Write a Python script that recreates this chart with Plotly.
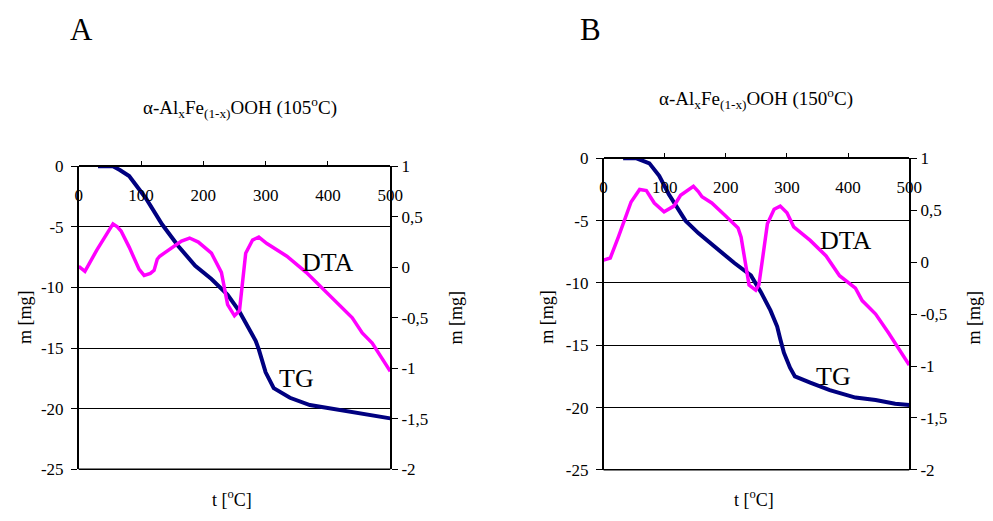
import plotly.graph_objects as go

# ---- data: alpha-AlxFe(1-x)OOH thermal analysis ----
# Sample dried at 105 C
tg_a_t = [31, 55, 66, 81, 108, 134, 160, 187, 213, 239, 257, 273, 284, 289, 295, 300, 313, 339, 371, 407, 439, 470, 500]
tg_a_m = [0, 0, -0.3, -0.8, -2.65, -4.8, -6.6, -8.2, -9.3, -10.6, -11.9, -13.3, -14.4, -15.1, -16.0, -17.0, -18.3, -19.1, -19.7, -20.0, -20.3, -20.5, -20.8]
dta_a_t = [0, 10, 29, 45, 55, 62, 68, 81, 97, 105, 115, 121, 126, 130, 150, 165, 178, 192, 213, 229, 239, 250, 258, 263, 268, 279, 289, 302, 334, 365, 392, 423, 439, 455, 471, 500]
dta_a_v = [0.01, -0.04, 0.17, 0.33, 0.43, 0.40, 0.36, 0.20, -0.02, -0.08, -0.06, -0.03, 0.08, 0.11, 0.20, 0.26, 0.29, 0.25, 0.14, -0.05, -0.37, -0.48, -0.43, -0.11, 0.14, 0.27, 0.30, 0.235, 0.11, -0.05, -0.21, -0.40, -0.50, -0.65, -0.75, -1.03]

# Sample dried at 150 C
tg_b_t = [32, 54, 75, 91, 107, 123, 134, 155, 188, 214, 241, 257, 273, 284, 289, 295, 305, 313, 338, 370, 412, 445, 477, 500]
tg_b_m = [0, 0, -0.4, -1.4, -2.9, -4.2, -5.0, -6.0, -7.35, -8.4, -9.4, -10.7, -12.2, -13.5, -14.5, -15.6, -16.8, -17.5, -18.0, -18.6, -19.2, -19.4, -19.7, -19.8]
dta_b_t = [0, 11, 24, 35, 45, 59, 70, 83, 99, 115, 126, 147, 155, 161, 177, 198, 220, 225, 230, 238, 249, 254, 260, 268, 279, 289, 300, 311, 338, 364, 386, 412, 423, 445, 466, 500]
dta_b_v = [0.02, 0.04, 0.24, 0.43, 0.58, 0.70, 0.69, 0.57, 0.485, 0.54, 0.645, 0.73, 0.68, 0.63, 0.57, 0.455, 0.33, 0.24, 0.06, -0.22, -0.27, -0.22, 0.03, 0.37, 0.51, 0.54, 0.475, 0.34, 0.21, 0.06, -0.13, -0.25, -0.37, -0.50, -0.68, -0.99]

# ---- axis ticks ----
t_ticks = [0, 100, 200, 300, 400, 500]
t_labels = ["0", "100", "200", "300", "400", "500"]
m_ticks = [0, -5, -10, -15, -20, -25]
m_labels = ["0", "-5", "-10", "-15", "-20", "-25"]
d_ticks = [1, 0.5, 0, -0.5, -1, -1.5, -2]
d_labels = ["1", "0,5", "0", "-0,5", "-1", "-1,5", "-2"]

titles = ["α-Al<sub>x</sub>Fe<sub>(1-x)</sub>OOH (105<sup>o</sup>C)",
          "α-Al<sub>x</sub>Fe<sub>(1-x)</sub>OOH (150<sup>o</sup>C)"]
letters = ["A", "B"]

W, H = 993, 521
FAMILY = "Liberation Serif"
NAVY = "#000080"
MAGENTA = "#FF00FF"


def fnt(size):
    return dict(family=FAMILY, size=size, color="black")


def px(x):
    return x / W


def py(y):
    return 1 - y / H


# plot boxes (left, right, top, bottom) in pixels
boxes = [(76, 393, 163.3, 477.7), (610, 921, 155, 478.3)]

fig = go.Figure()

series = [(tg_a_t, tg_a_m, dta_a_t, dta_a_v), (tg_b_t, tg_b_m, dta_b_t, dta_b_v)]
for i, (tt, tm, dt, dv) in enumerate(series):
    xa = "x" if i == 0 else "x2"
    ya = "y" if i == 0 else "y3"
    ya2 = "y2" if i == 0 else "y4"
    fig.add_trace(go.Scatter(x=dt, y=dv, xaxis=xa, yaxis=ya2, mode="lines",
                             line=dict(color=MAGENTA, width=3.5), showlegend=False))
    fig.add_trace(go.Scatter(x=tt, y=tm, xaxis=xa, yaxis=ya, mode="lines",
                             line=dict(color=NAVY, width=4), showlegend=False))

layout = dict(
    width=W, height=H, margin=dict(l=0, r=0, t=0, b=0),
    paper_bgcolor="white", plot_bgcolor="white",
    font=fnt(16),
    showlegend=False,
)

annotations = []
shapes = []
for i, (l, r, t, b) in enumerate(boxes):
    xname = "xaxis" if i == 0 else "xaxis2"
    yname = "yaxis" if i == 0 else "yaxis3"
    y2name = "yaxis2" if i == 0 else "yaxis4"
    xref = "x" if i == 0 else "x2"
    yref = "y" if i == 0 else "y3"
    layout[xname] = dict(
        domain=[px(l), px(r)], range=[0, 500], anchor="free", position=py(t),
        side="bottom", tickvals=t_ticks, ticktext=t_labels, ticks="inside",
        ticklen=5, tickwidth=1.3, tickcolor="black", showline=True,
        linecolor="black", linewidth=1.5, showgrid=False, zeroline=False,
        tickfont=fnt(17), ticklabelstandoff=14,
    )
    layout[yname] = dict(
        domain=[py(b), py(t)], range=[-25, 0], anchor=xref,
        tickvals=m_ticks, ticktext=m_labels, ticks="outside", ticklen=6,
        tickwidth=1.3, tickcolor="black", showline=True, linecolor="black",
        linewidth=1.5, showgrid=True, gridcolor="black", gridwidth=1.4,
        zeroline=False, tickfont=fnt(17), ticklabelstandoff=4,
    )
    layout[y2name] = dict(
        overlaying=yref, side="right", anchor=xref, range=[-2, 1],
        tickvals=d_ticks, ticktext=d_labels, ticks="outside", ticklen=6,
        tickwidth=1.3, tickcolor="black", showline=True, linecolor="black",
        linewidth=1.5, showgrid=False, zeroline=False, tickfont=fnt(17),
    )
    # bottom frame line
    shapes.append(dict(type="line", xref=f"{xref} domain", yref=f"{yref} domain",
                       x0=0, x1=1, y0=0, y1=0, line=dict(color="black", width=1.5)))
    annotations += [
        dict(text=titles[i], x=px(240 if i == 0 else 765), y=py(102 if i == 0 else 93),
             xref="paper", yref="paper", showarrow=False, font=fnt(19),
             xanchor="center", yanchor="middle"),
        dict(text=letters[i], x=px(79 if i == 0 else 597), y=py(21),
             xref="paper", yref="paper", showarrow=False, font=fnt(31),
             xanchor="center", yanchor="middle"),
        dict(text="t [<sup>o</sup>C]", x=px(232 if i == 0 else 763), y=py(508),
             xref="paper", yref="paper", showarrow=False, font=fnt(18),
             xanchor="center", yanchor="middle"),
        dict(text="m [mg]", x=px(22 if i == 0 else 553), y=py(320),
             xref="paper", yref="paper", showarrow=False, font=fnt(18),
             textangle=-90, xanchor="center", yanchor="middle"),
        dict(text="m [mg]", x=px(460 if i == 0 else 987), y=py(320),
             xref="paper", yref="paper", showarrow=False, font=fnt(18),
             textangle=-90, xanchor="center", yanchor="middle"),
    ]

# curve labels, placed in data coordinates
annotations += [
    dict(text="DTA", x=400, y=-7.9, xref="x", yref="y", showarrow=False, font=fnt(26)),
    dict(text="TG", x=350, y=-17.5, xref="x", yref="y", showarrow=False, font=fnt(26)),
    dict(text="DTA", x=397, y=-6.6, xref="x2", yref="y3", showarrow=False, font=fnt(26)),
    dict(text="TG", x=376, y=-17.5, xref="x2", yref="y3", showarrow=False, font=fnt(26)),
]

layout["annotations"] = annotations
layout["shapes"] = shapes
fig.update_layout(**layout)

fig.write_html("out.html")
